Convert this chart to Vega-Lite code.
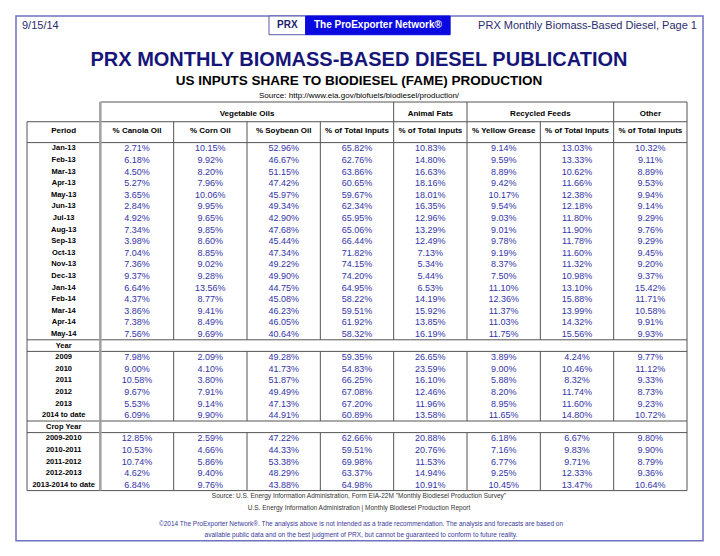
{
  "$schema": "https://vega.github.io/schema/vega-lite/v6.json",
  "autosize": "none",
  "width": 660,
  "height": 533.6,
  "padding": {"left": 27, "top": 15, "right": 33, "bottom": 7.4},
  "background": "white",
  "config": {"view": {"stroke": null}, "font": "Liberation Sans", "text": {"font": "Liberation Sans", "baseline": "middle"}},
  "datasets": {
    "cells": [
      {"p": "Jan-13", "canola": 0.0271, "corn": 0.1015, "soy": 0.5296, "vegT": 0.6582, "af": 0.1083, "yg": 0.0914, "rfT": 0.1303, "other": 0.1032},
      {"p": "Feb-13", "canola": 0.0618, "corn": 0.0992, "soy": 0.4667, "vegT": 0.6276, "af": 0.148, "yg": 0.0959, "rfT": 0.1333, "other": 0.0911},
      {"p": "Mar-13", "canola": 0.045, "corn": 0.082, "soy": 0.5115, "vegT": 0.6386, "af": 0.1663, "yg": 0.0889, "rfT": 0.1062, "other": 0.0889},
      {"p": "Apr-13", "canola": 0.0527, "corn": 0.0796, "soy": 0.4742, "vegT": 0.6065, "af": 0.1816, "yg": 0.0942, "rfT": 0.1166, "other": 0.0953},
      {"p": "May-13", "canola": 0.0365, "corn": 0.1006, "soy": 0.4597, "vegT": 0.5967, "af": 0.1801, "yg": 0.1017, "rfT": 0.1238, "other": 0.0994},
      {"p": "Jun-13", "canola": 0.0284, "corn": 0.0995, "soy": 0.4934, "vegT": 0.6234, "af": 0.1635, "yg": 0.0954, "rfT": 0.1218, "other": 0.0914},
      {"p": "Jul-13", "canola": 0.0492, "corn": 0.0965, "soy": 0.429, "vegT": 0.6595, "af": 0.1296, "yg": 0.0903, "rfT": 0.118, "other": 0.0929},
      {"p": "Aug-13", "canola": 0.0734, "corn": 0.0985, "soy": 0.4768, "vegT": 0.6506, "af": 0.1329, "yg": 0.0901, "rfT": 0.119, "other": 0.0976},
      {"p": "Sep-13", "canola": 0.0398, "corn": 0.086, "soy": 0.4544, "vegT": 0.6644, "af": 0.1249, "yg": 0.0978, "rfT": 0.1178, "other": 0.0929},
      {"p": "Oct-13", "canola": 0.0704, "corn": 0.0885, "soy": 0.4734, "vegT": 0.7182, "af": 0.0713, "yg": 0.0919, "rfT": 0.116, "other": 0.0945},
      {"p": "Nov-13", "canola": 0.0736, "corn": 0.0902, "soy": 0.4922, "vegT": 0.7415, "af": 0.0534, "yg": 0.0837, "rfT": 0.1132, "other": 0.092},
      {"p": "Dec-13", "canola": 0.0937, "corn": 0.0928, "soy": 0.499, "vegT": 0.742, "af": 0.0544, "yg": 0.075, "rfT": 0.1098, "other": 0.0937},
      {"p": "Jan-14", "canola": 0.0664, "corn": 0.1356, "soy": 0.4475, "vegT": 0.6495, "af": 0.0653, "yg": 0.111, "rfT": 0.131, "other": 0.1542},
      {"p": "Feb-14", "canola": 0.0437, "corn": 0.0877, "soy": 0.4508, "vegT": 0.5822, "af": 0.1419, "yg": 0.1236, "rfT": 0.1588, "other": 0.1171},
      {"p": "Mar-14", "canola": 0.0386, "corn": 0.0941, "soy": 0.4623, "vegT": 0.5951, "af": 0.1592, "yg": 0.1137, "rfT": 0.1399, "other": 0.1058},
      {"p": "Apr-14", "canola": 0.0738, "corn": 0.0849, "soy": 0.4605, "vegT": 0.6192, "af": 0.1385, "yg": 0.1103, "rfT": 0.1432, "other": 0.0991},
      {"p": "May-14", "canola": 0.0756, "corn": 0.0969, "soy": 0.4064, "vegT": 0.5832, "af": 0.1619, "yg": 0.1175, "rfT": 0.1556, "other": 0.0993},
      {"p": "2009", "canola": 0.0798, "corn": 0.0209, "soy": 0.4928, "vegT": 0.5935, "af": 0.2665, "yg": 0.0389, "rfT": 0.0424, "other": 0.0977},
      {"p": "2010", "canola": 0.09, "corn": 0.041, "soy": 0.4173, "vegT": 0.5483, "af": 0.2359, "yg": 0.09, "rfT": 0.1046, "other": 0.1112},
      {"p": "2011", "canola": 0.1058, "corn": 0.038, "soy": 0.5187, "vegT": 0.6625, "af": 0.161, "yg": 0.0588, "rfT": 0.0832, "other": 0.0933},
      {"p": "2012", "canola": 0.0967, "corn": 0.0791, "soy": 0.4949, "vegT": 0.6708, "af": 0.1246, "yg": 0.082, "rfT": 0.1174, "other": 0.0873},
      {"p": "2013", "canola": 0.0553, "corn": 0.0914, "soy": 0.4713, "vegT": 0.672, "af": 0.1196, "yg": 0.0895, "rfT": 0.116, "other": 0.0923},
      {"p": "2014 to date", "canola": 0.0609, "corn": 0.099, "soy": 0.4491, "vegT": 0.6089, "af": 0.1358, "yg": 0.1165, "rfT": 0.148, "other": 0.1072},
      {"p": "2009-2010", "canola": 0.1285, "corn": 0.0259, "soy": 0.4722, "vegT": 0.6266, "af": 0.2088, "yg": 0.0618, "rfT": 0.0667, "other": 0.098},
      {"p": "2010-2011", "canola": 0.1053, "corn": 0.0466, "soy": 0.4433, "vegT": 0.5951, "af": 0.2076, "yg": 0.0716, "rfT": 0.0983, "other": 0.099},
      {"p": "2011-2012", "canola": 0.1074, "corn": 0.0586, "soy": 0.5338, "vegT": 0.6998, "af": 0.1153, "yg": 0.0677, "rfT": 0.0971, "other": 0.0879},
      {"p": "2012-2013", "canola": 0.0462, "corn": 0.094, "soy": 0.4829, "vegT": 0.6337, "af": 0.1494, "yg": 0.0925, "rfT": 0.1233, "other": 0.0936},
      {"p": "2013-2014 to date", "canola": 0.0684, "corn": 0.0976, "soy": 0.4388, "vegT": 0.6498, "af": 0.1091, "yg": 0.1045, "rfT": 0.1347, "other": 0.1064}
    ]
  },
  "layer": [
    {
      "data": {"values": [{}]},
      "mark": {"type": "rect", "fill": null, "stroke": "#7070c0", "strokeWidth": 1.5, "xOffset": -11, "x2Offset": 16, "yOffset": 1, "y2Offset": -2},
      "encoding": {
        "x": {"datum": "period", "type": "nominal", "bandPosition": 0, "axis": null, "scale": {"type": "band", "domain": ["period","canola","corn","soy","vegT","af","yg","rfT","other"], "paddingInner": 0, "paddingOuter": 0}},
        "x2": {"datum": "other", "bandPosition": 1},
        "y": {"datum": "hdr", "type": "nominal", "bandPosition": 0, "axis": null, "scale": {"type": "band", "domain": ["hdr","b1","b2","title","b4","subtitle","source","tabletop","group","colhdr","b10","Jan-13","Feb-13","Mar-13","Apr-13","May-13","Jun-13","Jul-13","Aug-13","Sep-13","Oct-13","Nov-13","Dec-13","Jan-14","Feb-14","Mar-14","Apr-14","May-14","Year","2009","2010","2011","2012","2013","2014 to date","Crop Year","2009-2010","2010-2011","2011-2012","2012-2013","2013-2014 to date","foot1","foot2","cp1","cp2","b45"], "paddingInner": 0, "paddingOuter": 0}},
        "y2": {"datum": "b45", "bandPosition": 0.5}
      }
    },
    {
      "data": {"values": [{}]},
      "mark": {"type": "rect", "fill": "white", "stroke": "#5a5aaa", "strokeWidth": 1},
      "encoding": {
        "x": {"datum": "soy", "type": "nominal", "bandPosition": 0.3, "axis": null, "scale": {"type": "band", "domain": ["period","canola","corn","soy","vegT","af","yg","rfT","other"], "paddingInner": 0, "paddingOuter": 0}},
        "x2": {"datum": "soy", "bandPosition": 0.8},
        "y": {"datum": "hdr", "type": "nominal", "bandPosition": 0.09, "axis": null, "scale": {"type": "band", "domain": ["hdr","b1","b2","title","b4","subtitle","source","tabletop","group","colhdr","b10","Jan-13","Feb-13","Mar-13","Apr-13","May-13","Jun-13","Jul-13","Aug-13","Sep-13","Oct-13","Nov-13","Dec-13","Jan-14","Feb-14","Mar-14","Apr-14","May-14","Year","2009","2010","2011","2012","2013","2014 to date","Crop Year","2009-2010","2010-2011","2011-2012","2012-2013","2013-2014 to date","foot1","foot2","cp1","cp2","b45"], "paddingInner": 0, "paddingOuter": 0}},
        "y2": {"datum": "b1", "bandPosition": 0.7}
      }
    },
    {
      "data": {"values": [{}]},
      "mark": {"type": "rect", "fill": "#0a0ae0", "stroke": "#0a0ae0", "strokeWidth": 1},
      "encoding": {
        "x": {"datum": "soy", "type": "nominal", "bandPosition": 0.8, "axis": null, "scale": {"type": "band", "domain": ["period","canola","corn","soy","vegT","af","yg","rfT","other"], "paddingInner": 0, "paddingOuter": 0}},
        "x2": {"datum": "af", "bandPosition": 0.77},
        "y": {"datum": "hdr", "type": "nominal", "bandPosition": 0.09, "axis": null, "scale": {"type": "band", "domain": ["hdr","b1","b2","title","b4","subtitle","source","tabletop","group","colhdr","b10","Jan-13","Feb-13","Mar-13","Apr-13","May-13","Jun-13","Jul-13","Aug-13","Sep-13","Oct-13","Nov-13","Dec-13","Jan-14","Feb-14","Mar-14","Apr-14","May-14","Year","2009","2010","2011","2012","2013","2014 to date","Crop Year","2009-2010","2010-2011","2011-2012","2012-2013","2013-2014 to date","foot1","foot2","cp1","cp2","b45"], "paddingInner": 0, "paddingOuter": 0}},
        "y2": {"datum": "b1", "bandPosition": 0.7}
      }
    },
    {
      "data": {"values": [{"t": "PRX"}]},
      "mark": {"type": "text", "fontWeight": "bold", "fontSize": 10, "color": "#1c1c70", "align": "center"},
      "encoding": {
        "x": {"datum": "soy", "type": "nominal", "bandPosition": 0.55, "axis": null, "scale": {"type": "band", "domain": ["period","canola","corn","soy","vegT","af","yg","rfT","other"], "paddingInner": 0, "paddingOuter": 0}},
        "y": {"datum": "hdr", "type": "nominal", "bandPosition": 0.9, "axis": null, "scale": {"type": "band", "domain": ["hdr","b1","b2","title","b4","subtitle","source","tabletop","group","colhdr","b10","Jan-13","Feb-13","Mar-13","Apr-13","May-13","Jun-13","Jul-13","Aug-13","Sep-13","Oct-13","Nov-13","Dec-13","Jan-14","Feb-14","Mar-14","Apr-14","May-14","Year","2009","2010","2011","2012","2013","2014 to date","Crop Year","2009-2010","2010-2011","2011-2012","2012-2013","2013-2014 to date","foot1","foot2","cp1","cp2","b45"], "paddingInner": 0, "paddingOuter": 0}},
        "text": {"field": "t"}
      }
    },
    {
      "data": {"values": [{"t": "The ProExporter  Network®"}]},
      "mark": {"type": "text", "fontWeight": "bold", "fontSize": 10, "color": "white", "align": "center"},
      "encoding": {
        "x": {"datum": "vegT", "type": "nominal", "bandPosition": 0.785, "axis": null, "scale": {"type": "band", "domain": ["period","canola","corn","soy","vegT","af","yg","rfT","other"], "paddingInner": 0, "paddingOuter": 0}},
        "y": {"datum": "hdr", "type": "nominal", "bandPosition": 0.9, "axis": null, "scale": {"type": "band", "domain": ["hdr","b1","b2","title","b4","subtitle","source","tabletop","group","colhdr","b10","Jan-13","Feb-13","Mar-13","Apr-13","May-13","Jun-13","Jul-13","Aug-13","Sep-13","Oct-13","Nov-13","Dec-13","Jan-14","Feb-14","Mar-14","Apr-14","May-14","Year","2009","2010","2011","2012","2013","2014 to date","Crop Year","2009-2010","2010-2011","2011-2012","2012-2013","2013-2014 to date","foot1","foot2","cp1","cp2","b45"], "paddingInner": 0, "paddingOuter": 0}},
        "text": {"field": "t"}
      }
    },
    {
      "data": {"values": [{"t": "9/15/14"}]},
      "mark": {"type": "text", "fontSize": 11, "color": "#2b2b70", "align": "left", "dx": -5},
      "encoding": {
        "x": {"datum": "period", "type": "nominal", "bandPosition": 0, "axis": null, "scale": {"type": "band", "domain": ["period","canola","corn","soy","vegT","af","yg","rfT","other"], "paddingInner": 0, "paddingOuter": 0}},
        "y": {"datum": "hdr", "type": "nominal", "bandPosition": 0.95, "axis": null, "scale": {"type": "band", "domain": ["hdr","b1","b2","title","b4","subtitle","source","tabletop","group","colhdr","b10","Jan-13","Feb-13","Mar-13","Apr-13","May-13","Jun-13","Jul-13","Aug-13","Sep-13","Oct-13","Nov-13","Dec-13","Jan-14","Feb-14","Mar-14","Apr-14","May-14","Year","2009","2010","2011","2012","2013","2014 to date","Crop Year","2009-2010","2010-2011","2011-2012","2012-2013","2013-2014 to date","foot1","foot2","cp1","cp2","b45"], "paddingInner": 0, "paddingOuter": 0}},
        "text": {"field": "t"}
      }
    },
    {
      "data": {"values": [{"t": "PRX Monthly Biomass-Based Diesel, Page 1"}]},
      "mark": {"type": "text", "fontSize": 11, "color": "#2b2b70", "align": "right", "dx": 10},
      "encoding": {
        "x": {"datum": "other", "type": "nominal", "bandPosition": 1, "axis": null, "scale": {"type": "band", "domain": ["period","canola","corn","soy","vegT","af","yg","rfT","other"], "paddingInner": 0, "paddingOuter": 0}},
        "y": {"datum": "hdr", "type": "nominal", "bandPosition": 0.95, "axis": null, "scale": {"type": "band", "domain": ["hdr","b1","b2","title","b4","subtitle","source","tabletop","group","colhdr","b10","Jan-13","Feb-13","Mar-13","Apr-13","May-13","Jun-13","Jul-13","Aug-13","Sep-13","Oct-13","Nov-13","Dec-13","Jan-14","Feb-14","Mar-14","Apr-14","May-14","Year","2009","2010","2011","2012","2013","2014 to date","Crop Year","2009-2010","2010-2011","2011-2012","2012-2013","2013-2014 to date","foot1","foot2","cp1","cp2","b45"], "paddingInner": 0, "paddingOuter": 0}},
        "text": {"field": "t"}
      }
    },
    {
      "data": {"values": [{"t": "PRX MONTHLY BIOMASS-BASED DIESEL PUBLICATION"}]},
      "mark": {"type": "text", "fontSize": 20, "fontWeight": "bold", "color": "#16167a", "align": "center", "dx": 2},
      "encoding": {
        "x": {"datum": "vegT", "type": "nominal", "bandPosition": 0.5, "axis": null, "scale": {"type": "band", "domain": ["period","canola","corn","soy","vegT","af","yg","rfT","other"], "paddingInner": 0, "paddingOuter": 0}},
        "y": {"datum": "title", "type": "nominal", "bandPosition": 0.85, "axis": null, "scale": {"type": "band", "domain": ["hdr","b1","b2","title","b4","subtitle","source","tabletop","group","colhdr","b10","Jan-13","Feb-13","Mar-13","Apr-13","May-13","Jun-13","Jul-13","Aug-13","Sep-13","Oct-13","Nov-13","Dec-13","Jan-14","Feb-14","Mar-14","Apr-14","May-14","Year","2009","2010","2011","2012","2013","2014 to date","Crop Year","2009-2010","2010-2011","2011-2012","2012-2013","2013-2014 to date","foot1","foot2","cp1","cp2","b45"], "paddingInner": 0, "paddingOuter": 0}},
        "text": {"field": "t"}
      }
    },
    {
      "data": {"values": [{"t": "US INPUTS SHARE TO BIODIESEL (FAME) PRODUCTION"}]},
      "mark": {"type": "text", "fontSize": 13.5, "fontWeight": "bold", "color": "black", "align": "center", "dx": 2},
      "encoding": {
        "x": {"datum": "vegT", "type": "nominal", "bandPosition": 0.5, "axis": null, "scale": {"type": "band", "domain": ["period","canola","corn","soy","vegT","af","yg","rfT","other"], "paddingInner": 0, "paddingOuter": 0}},
        "y": {"datum": "subtitle", "type": "nominal", "bandPosition": 0.7, "axis": null, "scale": {"type": "band", "domain": ["hdr","b1","b2","title","b4","subtitle","source","tabletop","group","colhdr","b10","Jan-13","Feb-13","Mar-13","Apr-13","May-13","Jun-13","Jul-13","Aug-13","Sep-13","Oct-13","Nov-13","Dec-13","Jan-14","Feb-14","Mar-14","Apr-14","May-14","Year","2009","2010","2011","2012","2013","2014 to date","Crop Year","2009-2010","2010-2011","2011-2012","2012-2013","2013-2014 to date","foot1","foot2","cp1","cp2","b45"], "paddingInner": 0, "paddingOuter": 0}},
        "text": {"field": "t"}
      }
    },
    {
      "data": {"values": [{"t": "Source: http://www.eia.gov/biofuels/biodiesel/production/"}]},
      "mark": {"type": "text", "fontSize": 8, "color": "black", "align": "center", "dx": 2},
      "encoding": {
        "x": {"datum": "vegT", "type": "nominal", "bandPosition": 0.5, "axis": null, "scale": {"type": "band", "domain": ["period","canola","corn","soy","vegT","af","yg","rfT","other"], "paddingInner": 0, "paddingOuter": 0}},
        "y": {"datum": "source", "type": "nominal", "bandPosition": 1, "axis": null, "scale": {"type": "band", "domain": ["hdr","b1","b2","title","b4","subtitle","source","tabletop","group","colhdr","b10","Jan-13","Feb-13","Mar-13","Apr-13","May-13","Jun-13","Jul-13","Aug-13","Sep-13","Oct-13","Nov-13","Dec-13","Jan-14","Feb-14","Mar-14","Apr-14","May-14","Year","2009","2010","2011","2012","2013","2014 to date","Crop Year","2009-2010","2010-2011","2011-2012","2012-2013","2013-2014 to date","foot1","foot2","cp1","cp2","b45"], "paddingInner": 0, "paddingOuter": 0}},
        "text": {"field": "t"}
      }
    },
    {
      "data": {"values": [{"c": "soy", "t": "Vegetable Oils"}, {"c": "rfT", "t": "Recycled Feeds"}]},
      "mark": {"type": "text", "fontSize": 8, "fontWeight": "bold", "color": "black", "align": "center"},
      "encoding": {
        "x": {"field": "c", "type": "nominal", "bandPosition": 0, "axis": null, "scale": {"type": "band", "domain": ["period","canola","corn","soy","vegT","af","yg","rfT","other"], "paddingInner": 0, "paddingOuter": 0}},
        "y": {"datum": "group", "type": "nominal", "bandPosition": 0.5, "axis": null, "scale": {"type": "band", "domain": ["hdr","b1","b2","title","b4","subtitle","source","tabletop","group","colhdr","b10","Jan-13","Feb-13","Mar-13","Apr-13","May-13","Jun-13","Jul-13","Aug-13","Sep-13","Oct-13","Nov-13","Dec-13","Jan-14","Feb-14","Mar-14","Apr-14","May-14","Year","2009","2010","2011","2012","2013","2014 to date","Crop Year","2009-2010","2010-2011","2011-2012","2012-2013","2013-2014 to date","foot1","foot2","cp1","cp2","b45"], "paddingInner": 0, "paddingOuter": 0}},
        "text": {"field": "t"}
      }
    },
    {
      "data": {"values": [{"c": "af", "t": "Animal Fats"}, {"c": "other", "t": "Other"}]},
      "mark": {"type": "text", "fontSize": 8, "fontWeight": "bold", "color": "black", "align": "center"},
      "encoding": {
        "x": {"field": "c", "type": "nominal", "bandPosition": 0.5, "axis": null, "scale": {"type": "band", "domain": ["period","canola","corn","soy","vegT","af","yg","rfT","other"], "paddingInner": 0, "paddingOuter": 0}},
        "y": {"datum": "group", "type": "nominal", "bandPosition": 0.5, "axis": null, "scale": {"type": "band", "domain": ["hdr","b1","b2","title","b4","subtitle","source","tabletop","group","colhdr","b10","Jan-13","Feb-13","Mar-13","Apr-13","May-13","Jun-13","Jul-13","Aug-13","Sep-13","Oct-13","Nov-13","Dec-13","Jan-14","Feb-14","Mar-14","Apr-14","May-14","Year","2009","2010","2011","2012","2013","2014 to date","Crop Year","2009-2010","2010-2011","2011-2012","2012-2013","2013-2014 to date","foot1","foot2","cp1","cp2","b45"], "paddingInner": 0, "paddingOuter": 0}},
        "text": {"field": "t"}
      }
    },
    {
      "data": {"values": [
        {"c": "period", "t": "Period"}, {"c": "canola", "t": "% Canola Oil"}, {"c": "corn", "t": "% Corn Oil"},
        {"c": "soy", "t": "% Soybean Oil"}, {"c": "vegT", "t": "% of Total Inputs"}, {"c": "af", "t": "% of Total Inputs"},
        {"c": "yg", "t": "% Yellow Grease"}, {"c": "rfT", "t": "% of Total Inputs"}, {"c": "other", "t": "% of Total Inputs"}
      ]},
      "mark": {"type": "text", "fontSize": 8, "fontWeight": "bold", "color": "black", "align": "center"},
      "encoding": {
        "x": {"field": "c", "type": "nominal", "bandPosition": 0.5, "axis": null, "scale": {"type": "band", "domain": ["period","canola","corn","soy","vegT","af","yg","rfT","other"], "paddingInner": 0, "paddingOuter": 0}},
        "y": {"datum": "colhdr", "type": "nominal", "bandPosition": 1, "axis": null, "scale": {"type": "band", "domain": ["hdr","b1","b2","title","b4","subtitle","source","tabletop","group","colhdr","b10","Jan-13","Feb-13","Mar-13","Apr-13","May-13","Jun-13","Jul-13","Aug-13","Sep-13","Oct-13","Nov-13","Dec-13","Jan-14","Feb-14","Mar-14","Apr-14","May-14","Year","2009","2010","2011","2012","2013","2014 to date","Crop Year","2009-2010","2010-2011","2011-2012","2012-2013","2013-2014 to date","foot1","foot2","cp1","cp2","b45"], "paddingInner": 0, "paddingOuter": 0}},
        "text": {"field": "t"}
      }
    },
    {
      "data": {"name": "cells"},
      "mark": {"type": "text", "fontSize": 7.5, "fontWeight": "bold", "color": "black", "align": "center"},
      "encoding": {
        "x": {"datum": "period", "type": "nominal", "bandPosition": 0.5, "axis": null, "scale": {"type": "band", "domain": ["period","canola","corn","soy","vegT","af","yg","rfT","other"], "paddingInner": 0, "paddingOuter": 0}},
        "y": {"field": "p", "type": "nominal", "bandPosition": 0.5, "axis": null, "scale": {"type": "band", "domain": ["hdr","b1","b2","title","b4","subtitle","source","tabletop","group","colhdr","b10","Jan-13","Feb-13","Mar-13","Apr-13","May-13","Jun-13","Jul-13","Aug-13","Sep-13","Oct-13","Nov-13","Dec-13","Jan-14","Feb-14","Mar-14","Apr-14","May-14","Year","2009","2010","2011","2012","2013","2014 to date","Crop Year","2009-2010","2010-2011","2011-2012","2012-2013","2013-2014 to date","foot1","foot2","cp1","cp2","b45"], "paddingInner": 0, "paddingOuter": 0}},
        "text": {"field": "p"}
      }
    },
    {
      "data": {"values": [{"p": "Year"}, {"p": "Crop Year"}]},
      "mark": {"type": "text", "fontSize": 7.5, "fontWeight": "bold", "color": "black", "align": "center"},
      "encoding": {
        "x": {"datum": "period", "type": "nominal", "bandPosition": 0.5, "axis": null, "scale": {"type": "band", "domain": ["period","canola","corn","soy","vegT","af","yg","rfT","other"], "paddingInner": 0, "paddingOuter": 0}},
        "y": {"field": "p", "type": "nominal", "bandPosition": 0.5, "axis": null, "scale": {"type": "band", "domain": ["hdr","b1","b2","title","b4","subtitle","source","tabletop","group","colhdr","b10","Jan-13","Feb-13","Mar-13","Apr-13","May-13","Jun-13","Jul-13","Aug-13","Sep-13","Oct-13","Nov-13","Dec-13","Jan-14","Feb-14","Mar-14","Apr-14","May-14","Year","2009","2010","2011","2012","2013","2014 to date","Crop Year","2009-2010","2010-2011","2011-2012","2012-2013","2013-2014 to date","foot1","foot2","cp1","cp2","b45"], "paddingInner": 0, "paddingOuter": 0}},
        "text": {"field": "p"}
      }
    },
    {
      "data": {"name": "cells"},
      "transform": [{"fold": ["canola", "corn", "soy", "vegT", "af", "yg", "rfT", "other"]}],
      "mark": {"type": "text", "fontSize": 9, "color": "#3434a8", "align": "center"},
      "encoding": {
        "x": {"field": "key", "type": "nominal", "bandPosition": 0.5, "axis": null, "scale": {"type": "band", "domain": ["period","canola","corn","soy","vegT","af","yg","rfT","other"], "paddingInner": 0, "paddingOuter": 0}},
        "y": {"field": "p", "type": "nominal", "bandPosition": 0.5, "axis": null, "scale": {"type": "band", "domain": ["hdr","b1","b2","title","b4","subtitle","source","tabletop","group","colhdr","b10","Jan-13","Feb-13","Mar-13","Apr-13","May-13","Jun-13","Jul-13","Aug-13","Sep-13","Oct-13","Nov-13","Dec-13","Jan-14","Feb-14","Mar-14","Apr-14","May-14","Year","2009","2010","2011","2012","2013","2014 to date","Crop Year","2009-2010","2010-2011","2011-2012","2012-2013","2013-2014 to date","foot1","foot2","cp1","cp2","b45"], "paddingInner": 0, "paddingOuter": 0}},
        "text": {"field": "value", "type": "quantitative", "format": ".2%"}
      }
    },
    {
      "data": {"values": [{"r": "Jan-13"}, {"r": "Year"}, {"r": "2009"}, {"r": "Crop Year"}, {"r": "2009-2010"}, {"r": "foot1"}]},
      "mark": {"type": "rule", "color": "#555555", "strokeWidth": 1},
      "encoding": {
        "x": {"datum": "period", "type": "nominal", "bandPosition": 0, "axis": null, "scale": {"type": "band", "domain": ["period","canola","corn","soy","vegT","af","yg","rfT","other"], "paddingInner": 0, "paddingOuter": 0}},
        "x2": {"datum": "other", "bandPosition": 1},
        "y": {"field": "r", "type": "nominal", "bandPosition": 0, "axis": null, "scale": {"type": "band", "domain": ["hdr","b1","b2","title","b4","subtitle","source","tabletop","group","colhdr","b10","Jan-13","Feb-13","Mar-13","Apr-13","May-13","Jun-13","Jul-13","Aug-13","Sep-13","Oct-13","Nov-13","Dec-13","Jan-14","Feb-14","Mar-14","Apr-14","May-14","Year","2009","2010","2011","2012","2013","2014 to date","Crop Year","2009-2010","2010-2011","2011-2012","2012-2013","2013-2014 to date","foot1","foot2","cp1","cp2","b45"], "paddingInner": 0, "paddingOuter": 0}}
      }
    },
    {
      "data": {"values": [{}]},
      "mark": {"type": "rule", "color": "#555555", "strokeWidth": 1},
      "encoding": {
        "x": {"datum": "period", "type": "nominal", "bandPosition": 0, "axis": null, "scale": {"type": "band", "domain": ["period","canola","corn","soy","vegT","af","yg","rfT","other"], "paddingInner": 0, "paddingOuter": 0}},
        "x2": {"datum": "other", "bandPosition": 1},
        "y": {"datum": "colhdr", "type": "nominal", "bandPosition": 0.2, "axis": null, "scale": {"type": "band", "domain": ["hdr","b1","b2","title","b4","subtitle","source","tabletop","group","colhdr","b10","Jan-13","Feb-13","Mar-13","Apr-13","May-13","Jun-13","Jul-13","Aug-13","Sep-13","Oct-13","Nov-13","Dec-13","Jan-14","Feb-14","Mar-14","Apr-14","May-14","Year","2009","2010","2011","2012","2013","2014 to date","Crop Year","2009-2010","2010-2011","2011-2012","2012-2013","2013-2014 to date","foot1","foot2","cp1","cp2","b45"], "paddingInner": 0, "paddingOuter": 0}}
      }
    },
    {
      "data": {"values": [{}]},
      "mark": {"type": "rule", "color": "#555555", "strokeWidth": 1},
      "encoding": {
        "x": {"datum": "canola", "type": "nominal", "bandPosition": 0, "axis": null, "scale": {"type": "band", "domain": ["period","canola","corn","soy","vegT","af","yg","rfT","other"], "paddingInner": 0, "paddingOuter": 0}},
        "x2": {"datum": "other", "bandPosition": 1},
        "y": {"datum": "tabletop", "type": "nominal", "bandPosition": 0.5, "axis": null, "scale": {"type": "band", "domain": ["hdr","b1","b2","title","b4","subtitle","source","tabletop","group","colhdr","b10","Jan-13","Feb-13","Mar-13","Apr-13","May-13","Jun-13","Jul-13","Aug-13","Sep-13","Oct-13","Nov-13","Dec-13","Jan-14","Feb-14","Mar-14","Apr-14","May-14","Year","2009","2010","2011","2012","2013","2014 to date","Crop Year","2009-2010","2010-2011","2011-2012","2012-2013","2013-2014 to date","foot1","foot2","cp1","cp2","b45"], "paddingInner": 0, "paddingOuter": 0}}
      }
    },
    {
      "data": {"values": [
        {"c": "period", "r1": "colhdr", "r2": "foot1"},
        {"c": "corn", "r1": "colhdr", "r2": "Year"},
        {"c": "soy", "r1": "colhdr", "r2": "Year"},
        {"c": "vegT", "r1": "colhdr", "r2": "Year"},
        {"c": "rfT", "r1": "colhdr", "r2": "Year"}
      ]},
      "mark": {"type": "rule", "color": "#555555", "strokeWidth": 1},
      "encoding": {
        "x": {"field": "c", "type": "nominal", "bandPosition": 0, "axis": null, "scale": {"type": "band", "domain": ["period","canola","corn","soy","vegT","af","yg","rfT","other"], "paddingInner": 0, "paddingOuter": 0}},
        "y": {"field": "r1", "type": "nominal", "bandPosition": 0.2, "axis": null, "scale": {"type": "band", "domain": ["hdr","b1","b2","title","b4","subtitle","source","tabletop","group","colhdr","b10","Jan-13","Feb-13","Mar-13","Apr-13","May-13","Jun-13","Jul-13","Aug-13","Sep-13","Oct-13","Nov-13","Dec-13","Jan-14","Feb-14","Mar-14","Apr-14","May-14","Year","2009","2010","2011","2012","2013","2014 to date","Crop Year","2009-2010","2010-2011","2011-2012","2012-2013","2013-2014 to date","foot1","foot2","cp1","cp2","b45"], "paddingInner": 0, "paddingOuter": 0}},
        "y2": {"field": "r2", "bandPosition": 0}
      }
    },
    {
      "data": {"values": [
        {"c": "af", "r1": "tabletop", "r2": "Year"},
        {"c": "yg", "r1": "tabletop", "r2": "Year"},
        {"c": "other", "r1": "tabletop", "r2": "Year"}
      ]},
      "mark": {"type": "rule", "color": "#555555", "strokeWidth": 1},
      "encoding": {
        "x": {"field": "c", "type": "nominal", "bandPosition": 0, "axis": null, "scale": {"type": "band", "domain": ["period","canola","corn","soy","vegT","af","yg","rfT","other"], "paddingInner": 0, "paddingOuter": 0}},
        "y": {"field": "r1", "type": "nominal", "bandPosition": 0.5, "axis": null, "scale": {"type": "band", "domain": ["hdr","b1","b2","title","b4","subtitle","source","tabletop","group","colhdr","b10","Jan-13","Feb-13","Mar-13","Apr-13","May-13","Jun-13","Jul-13","Aug-13","Sep-13","Oct-13","Nov-13","Dec-13","Jan-14","Feb-14","Mar-14","Apr-14","May-14","Year","2009","2010","2011","2012","2013","2014 to date","Crop Year","2009-2010","2010-2011","2011-2012","2012-2013","2013-2014 to date","foot1","foot2","cp1","cp2","b45"], "paddingInner": 0, "paddingOuter": 0}},
        "y2": {"field": "r2", "bandPosition": 0}
      }
    },
    {
      "data": {"values": [
        {"c": "corn", "r1": "2009", "r2": "Crop Year"}, {"c": "corn", "r1": "2009-2010", "r2": "foot1"},
        {"c": "soy", "r1": "2009", "r2": "Crop Year"}, {"c": "soy", "r1": "2009-2010", "r2": "foot1"},
        {"c": "vegT", "r1": "2009", "r2": "Crop Year"}, {"c": "vegT", "r1": "2009-2010", "r2": "foot1"},
        {"c": "af", "r1": "2009", "r2": "Crop Year"}, {"c": "af", "r1": "2009-2010", "r2": "foot1"},
        {"c": "yg", "r1": "2009", "r2": "Crop Year"}, {"c": "yg", "r1": "2009-2010", "r2": "foot1"},
        {"c": "rfT", "r1": "2009", "r2": "Crop Year"}, {"c": "rfT", "r1": "2009-2010", "r2": "foot1"},
        {"c": "other", "r1": "2009", "r2": "Crop Year"}, {"c": "other", "r1": "2009-2010", "r2": "foot1"}
      ]},
      "mark": {"type": "rule", "color": "#555555", "strokeWidth": 1},
      "encoding": {
        "x": {"field": "c", "type": "nominal", "bandPosition": 0, "axis": null, "scale": {"type": "band", "domain": ["period","canola","corn","soy","vegT","af","yg","rfT","other"], "paddingInner": 0, "paddingOuter": 0}},
        "y": {"field": "r1", "type": "nominal", "bandPosition": 0, "axis": null, "scale": {"type": "band", "domain": ["hdr","b1","b2","title","b4","subtitle","source","tabletop","group","colhdr","b10","Jan-13","Feb-13","Mar-13","Apr-13","May-13","Jun-13","Jul-13","Aug-13","Sep-13","Oct-13","Nov-13","Dec-13","Jan-14","Feb-14","Mar-14","Apr-14","May-14","Year","2009","2010","2011","2012","2013","2014 to date","Crop Year","2009-2010","2010-2011","2011-2012","2012-2013","2013-2014 to date","foot1","foot2","cp1","cp2","b45"], "paddingInner": 0, "paddingOuter": 0}},
        "y2": {"field": "r2", "bandPosition": 0}
      }
    },
    {
      "data": {"values": [{}]},
      "mark": {"type": "rule", "color": "#555555", "strokeWidth": 1},
      "encoding": {
        "x": {"datum": "other", "type": "nominal", "bandPosition": 1, "axis": null, "scale": {"type": "band", "domain": ["period","canola","corn","soy","vegT","af","yg","rfT","other"], "paddingInner": 0, "paddingOuter": 0}},
        "y": {"datum": "tabletop", "type": "nominal", "bandPosition": 0.5, "axis": null, "scale": {"type": "band", "domain": ["hdr","b1","b2","title","b4","subtitle","source","tabletop","group","colhdr","b10","Jan-13","Feb-13","Mar-13","Apr-13","May-13","Jun-13","Jul-13","Aug-13","Sep-13","Oct-13","Nov-13","Dec-13","Jan-14","Feb-14","Mar-14","Apr-14","May-14","Year","2009","2010","2011","2012","2013","2014 to date","Crop Year","2009-2010","2010-2011","2011-2012","2012-2013","2013-2014 to date","foot1","foot2","cp1","cp2","b45"], "paddingInner": 0, "paddingOuter": 0}},
        "y2": {"datum": "foot1", "bandPosition": 0}
      }
    },
    {
      "data": {"values": [{}]},
      "mark": {"type": "rule", "color": "#a0a0a0", "strokeWidth": 2.5},
      "encoding": {
        "x": {"datum": "canola", "type": "nominal", "bandPosition": 0, "axis": null, "scale": {"type": "band", "domain": ["period","canola","corn","soy","vegT","af","yg","rfT","other"], "paddingInner": 0, "paddingOuter": 0}},
        "y": {"datum": "tabletop", "type": "nominal", "bandPosition": 0.5, "axis": null, "scale": {"type": "band", "domain": ["hdr","b1","b2","title","b4","subtitle","source","tabletop","group","colhdr","b10","Jan-13","Feb-13","Mar-13","Apr-13","May-13","Jun-13","Jul-13","Aug-13","Sep-13","Oct-13","Nov-13","Dec-13","Jan-14","Feb-14","Mar-14","Apr-14","May-14","Year","2009","2010","2011","2012","2013","2014 to date","Crop Year","2009-2010","2010-2011","2011-2012","2012-2013","2013-2014 to date","foot1","foot2","cp1","cp2","b45"], "paddingInner": 0, "paddingOuter": 0}},
        "y2": {"datum": "foot1", "bandPosition": 0}
      }
    },
    {
      "data": {"values": [
        {"r": "foot1", "t": "Source: U.S. Energy Information Administration, Form EIA-22M \"Monthly Biodiesel Production Survey\""},
        {"r": "foot2", "t": "U.S. Energy Information Administration | Monthly Biodiesel Production Report"}
      ]},
      "mark": {"type": "text", "fontSize": 6.5, "color": "#333333", "align": "center", "dx": 2},
      "encoding": {
        "x": {"datum": "vegT", "type": "nominal", "bandPosition": 0.5, "axis": null, "scale": {"type": "band", "domain": ["period","canola","corn","soy","vegT","af","yg","rfT","other"], "paddingInner": 0, "paddingOuter": 0}},
        "y": {"field": "r", "type": "nominal", "bandPosition": 0.5, "axis": null, "scale": {"type": "band", "domain": ["hdr","b1","b2","title","b4","subtitle","source","tabletop","group","colhdr","b10","Jan-13","Feb-13","Mar-13","Apr-13","May-13","Jun-13","Jul-13","Aug-13","Sep-13","Oct-13","Nov-13","Dec-13","Jan-14","Feb-14","Mar-14","Apr-14","May-14","Year","2009","2010","2011","2012","2013","2014 to date","Crop Year","2009-2010","2010-2011","2011-2012","2012-2013","2013-2014 to date","foot1","foot2","cp1","cp2","b45"], "paddingInner": 0, "paddingOuter": 0}},
        "text": {"field": "t"}
      }
    },
    {
      "data": {"values": [
        {"r": "cp1", "t": "©2014 The ProExporter Network®.  The analysis above is not intended as a trade recommendation. The analysis and forecasts are based on"},
        {"r": "cp2", "t": "available public data and on the best judgment of PRX, but cannot be guaranteed to conform to future reality."}
      ]},
      "mark": {"type": "text", "fontSize": 6.5, "color": "#3a3a9a", "align": "center", "dx": 4},
      "encoding": {
        "x": {"datum": "vegT", "type": "nominal", "bandPosition": 0.5, "axis": null, "scale": {"type": "band", "domain": ["period","canola","corn","soy","vegT","af","yg","rfT","other"], "paddingInner": 0, "paddingOuter": 0}},
        "y": {"field": "r", "type": "nominal", "bandPosition": 0.85, "axis": null, "scale": {"type": "band", "domain": ["hdr","b1","b2","title","b4","subtitle","source","tabletop","group","colhdr","b10","Jan-13","Feb-13","Mar-13","Apr-13","May-13","Jun-13","Jul-13","Aug-13","Sep-13","Oct-13","Nov-13","Dec-13","Jan-14","Feb-14","Mar-14","Apr-14","May-14","Year","2009","2010","2011","2012","2013","2014 to date","Crop Year","2009-2010","2010-2011","2011-2012","2012-2013","2013-2014 to date","foot1","foot2","cp1","cp2","b45"], "paddingInner": 0, "paddingOuter": 0}},
        "text": {"field": "t"}
      }
    }
  ]
}
